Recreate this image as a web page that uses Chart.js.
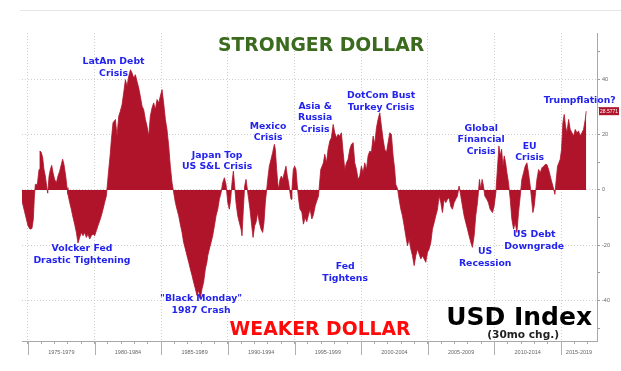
<!DOCTYPE html>
<html>
<head>
<meta charset="utf-8">
<script src="https://cdn.jsdelivr.net/npm/chart.js@4/dist/chart.umd.min.js"></script>
<style>
html,body{margin:0;padding:0;background:#fff;overflow:hidden}
canvas{display:block}
</style>
</head>
<body>
<canvas id="c" width="621" height="371"></canvas>
<script>
// ---- DATA ----
const years = [
1974.55,1974.70,1974.85,1975.00,1975.15,1975.30,1975.40,1975.48,1975.55,1975.70,1975.83,1975.90,
1976.00,1976.10,1976.20,1976.30,1976.40,1976.48,1976.58,1976.68,1976.78,1976.88,
1977.00,1977.13,1977.25,1977.38,1977.50,1977.60,1977.70,1977.83,1977.93,
1978.00,1978.13,1978.25,1978.38,1978.50,1978.63,1978.75,1978.88,
1979.00,1979.13,1979.25,1979.38,1979.50,1979.63,1979.75,1979.88,
1980.00,1980.13,1980.25,1980.38,1980.50,1980.63,1980.75,1980.88,
1981.06,1981.16,1981.26,1981.38,1981.56,1981.68,1981.81,1981.93,
1982.06,1982.18,1982.31,1982.43,1982.56,1982.69,1982.81,1982.93,
1983.06,1983.18,1983.31,1983.43,1983.56,1983.68,1983.81,1983.93,
1984.06,1984.18,1984.31,1984.43,1984.56,1984.68,1984.81,1984.93,
1985.06,1985.18,1985.31,1985.43,1985.56,1985.68,1985.81,
1986.06,1986.18,1986.31,1986.43,1986.56,1986.68,1986.81,1986.93,
1987.06,1987.18,1987.31,1987.43,1987.56,1987.68,1987.81,1987.93,
1988.06,1988.18,1988.31,1988.43,1988.49,1988.61,1988.74,1988.86,1988.99,
1989.11,1989.24,1989.36,1989.49,1989.61,1989.74,1989.86,1989.99,
1990.11,1990.21,1990.31,1990.41,1990.49,1990.61,1990.74,1990.86,1990.99,
1991.06,1991.16,1991.26,1991.36,1991.46,1991.56,1991.66,1991.79,1991.89,
1992.01,1992.11,1992.24,1992.36,1992.49,1992.61,1992.71,1992.81,1992.99,
1993.11,1993.24,1993.36,1993.49,1993.56,1993.66,1993.74,1993.81,1993.91,
1994.01,1994.11,1994.24,1994.36,1994.46,1994.56,1994.66,1994.74,1994.81,1994.91,
1995.01,1995.11,1995.21,1995.31,1995.41,1995.55,1995.67,1995.80,1995.92,
1996.05,1996.17,1996.30,1996.42,1996.55,1996.67,1996.80,1996.97,
1997.07,1997.17,1997.27,1997.40,1997.52,1997.65,1997.77,1997.90,
1998.02,1998.15,1998.27,1998.40,1998.52,1998.65,1998.77,1998.90,
1999.02,1999.15,1999.27,1999.40,1999.52,1999.65,1999.77,1999.90,
2000.02,2000.15,2000.27,2000.40,2000.52,2000.65,2000.77,2000.90,
2001.02,2001.15,2001.27,2001.40,2001.52,2001.65,2001.77,2001.90,
2002.02,2002.15,2002.27,2002.40,2002.52,2002.60,2002.73,2002.85,2002.98,
2003.10,2003.23,2003.35,2003.48,2003.60,2003.73,2003.85,2003.98,
2004.10,2004.23,2004.35,2004.48,2004.60,2004.73,2004.85,2004.98,
2005.10,2005.23,2005.35,2005.48,2005.60,2005.73,2005.85,2005.98,
2006.10,2006.23,2006.35,2006.48,2006.60,2006.73,2006.85,2006.98,
2007.10,2007.23,2007.35,2007.48,2007.60,2007.73,2007.85,2007.98,
2008.10,2008.23,2008.35,2008.48,2008.60,2008.73,2008.80,2008.88,2008.98,
2009.08,2009.18,2009.28,2009.43,2009.55,2009.68,2009.86,2009.98,
2010.11,2010.24,2010.34,2010.44,2010.54,2010.64,2010.74,2010.84,2010.94,
2011.06,2011.19,2011.31,2011.44,2011.56,2011.69,2011.81,2011.94,
2012.06,2012.19,2012.31,2012.44,2012.56,2012.69,2012.79,2012.89,2012.99,
2013.09,2013.19,2013.32,2013.44,2013.57,2013.69,2013.82,2013.94,
2014.07,2014.19,2014.32,2014.44,2014.54,2014.64,2014.74,2014.84,2014.94,
2015.04,2015.14,2015.24,2015.34,2015.44,2015.57,2015.69,2015.82,2015.94,
2016.07,2016.19,2016.32,2016.44,2016.57,2016.69,2016.82,2016.89
];
const values = [
-4.0,-7.0,-10.0,-13.0,-14.2,-13.9,-10.6,-2.2,2.0,2.0,7.4,14.1,
13.5,11.7,7.4,5.0,1.4,-1.2,5.0,7.4,8.9,6.2,
3.8,2.6,5.0,6.8,9.2,11.1,9.2,5.0,0.8,
-1.6,-4.6,-7.0,-10.0,-12.4,-15.4,-19.2,-17.2,
-15.4,-16.6,-15.4,-17.2,-16.0,-17.8,-16.6,-16.0,
-16.6,-14.8,-13.0,-11.2,-9.4,-7.0,-4.6,-2.2,
7.4,12.3,18.3,24.3,25.5,19.5,26.7,28.5,
30.9,35.1,39.9,37.5,41.1,43.5,42.3,40.5,
41.7,39.3,36.9,33.9,30.3,29.1,25.5,23.1,
19.5,26.7,29.7,31.5,29.1,32.7,31.5,33.9,
36.3,31.5,25.5,21.9,15.9,8.6,2.6,
-4.6,-7.0,-9.4,-12.4,-15.4,-19.0,-21.4,-23.8,
-26.2,-28.6,-31.0,-33.4,-35.8,-38.2,-36.4,-39.4,
-35.8,-33.4,-28.6,-26.0,-23.8,-21.4,-19.0,-16.6,-13.0,
-9.4,-7.0,-3.4,-1.0,2.6,4.4,2.0,-4.6,
-7.0,-3.4,2.6,6.8,2.6,-4.6,-9.4,-11.8,-14.2,
-16.6,-7.0,1.4,3.8,0.2,-3.4,-7.0,-13.0,-17.2,
-13.0,-11.8,-8.2,-11.8,-14.2,-15.4,-11.8,-4.6,3.8,
8.6,11.1,13.5,16.5,14.7,7.4,2.6,0.2,3.8,
5.0,3.8,6.2,8.6,5.0,2.6,-1.0,-3.4,0.2,7.4,
8.6,7.4,1.4,-3.4,-7.0,-8.0,-12.4,-10.0,-11.5,
-9.0,-7.0,-10.5,-9.0,-5.8,-4.0,-2.2,7.4,
8.6,9.8,12.9,9.8,14.7,17.7,18.9,23.7,
20.7,18.9,20.1,19.5,20.7,13.5,7.4,9.8,
11.1,14.7,16.5,17.1,9.8,7.4,3.8,5.0,
8.6,6.2,9.8,7.4,12.3,14.1,13.5,19.5,
16.5,22.5,25.5,27.9,23.1,18.3,14.7,13.5,
17.1,20.7,20.1,12.3,7.4,2.0,0.5,-3.4,-7.0,
-9.4,-13.0,-16.6,-20.2,-17.8,-21.4,-23.8,-27.4,
-23.8,-21.4,-23.2,-25.0,-23.8,-25.0,-26.2,-22.6,
-21.4,-19.0,-14.2,-11.8,-9.4,-7.0,-2.2,-4.6,
-8.2,-3.4,-4.6,-3.4,-2.8,-6.0,-7.0,-4.6,
-3.4,-2.2,1.4,-2.2,-5.8,-9.4,-11.8,-14.2,
-16.6,-19.0,-20.8,-16.6,-9.4,-4.6,-1.0,3.8,0.2,
3.8,1.4,-2.2,-3.4,-4.6,-7.0,-8.2,-5.8,
-1.0,8.6,15.9,12.3,14.7,8.6,12.3,9.8,6.2,
2.6,-3.4,-10.6,-14.2,-11.8,-15.4,-8.2,-2.2,
3.8,6.2,8.6,9.8,6.2,1.4,-3.4,-8.2,-5.8,
-1.0,3.8,7.4,6.2,8.0,8.6,9.2,9.2,
7.4,5.0,2.6,0.5,-1.6,3.8,8.6,9.8,11.1,
14.7,24.3,27.3,23.1,20.7,25.5,21.9,20.7,19.5,
21.9,20.7,21.3,19.5,20.7,21.9,25.5,28.5
];
const periodLabels = ['1975-1979','1980-1984','1985-1989','1990-1994','1995-1999','2000-2004','2005-2009','2010-2014','2015-2019'];
const periodStarts = [1975,1980,1985,1990,1995,2000,2005,2010,2015];
const yTickLabels = [40,20,0,-20,-40];
const lastValueText = '28.5771';

// annotation texts (anchored in data coordinates: year, value)
const notes = [
  {lines:['LatAm Debt','Crisis'], year:1981.42, val:46.4},
  {lines:['Volcker Fed','Drastic Tightening'], year:1979.05, val:-21.4},
  {lines:['"Black Monday"','1987 Crash'], year:1987.99, val:-39.4},
  {lines:['Japan Top','US S&L Crisis'], year:1989.19, val:12.5},
  {lines:['Mexico','Crisis'], year:1993.02, val:23.0},
  {lines:['Asia &','Russia','Crisis'], year:1996.55, val:30.2},
  {lines:['DotCom Bust','Turkey Crisis'], year:2001.50, val:34.1},
  {lines:['Global','Financial','Crisis'], year:2009.01, val:22.2},
  {lines:['EU','Crisis'], year:2012.65, val:15.7},
  {lines:['Trumpflation?'], year:2016.40, val:32.3},
  {lines:['US Debt','Downgrade'], year:2012.99, val:-16.3},
  {lines:['US','Recession'], year:2009.31, val:-22.5},
  {lines:['Fed','Tightens'], year:1998.80, val:-27.9}
];
const titles = [
  {text:'STRONGER DOLLAR', year:1996.99, val:52.1, font:'bold 18.8px "DejaVu Sans"', color:'#3b6b1f'},
  {text:'WEAKER DOLLAR', year:1996.92, val:-50.9, font:'bold 18.8px "DejaVu Sans"', color:'#ff0a0a'},
  {text:'USD Index', year:2011.86, val:-46.6, font:'bold 25px "DejaVu Sans"', color:'#000000'},
  {text:'(30mo chg.)', year:2012.16, val:-52.7, font:'bold 10.6px "DejaVu Sans"', color:'#222222'}
];

const BAR = '#b0142b';
const AXIS_MIN = 1974.55, AXIS_MAX = 2017.7;

const decor = {
  id:'decor',
  beforeDraw(chart){
    const ctx = chart.ctx;
    ctx.save();
    ctx.strokeStyle = '#e6e6e6';
    ctx.lineWidth = 1;
    ctx.beginPath(); ctx.moveTo(20, 10.5); ctx.lineTo(621, 10.5); ctx.stroke();
    ctx.restore();
  },
  afterDraw(chart){
    const ctx = chart.ctx, xs = chart.scales.x, ys = chart.scales.y;
    ctx.save();
    // long separator ticks under the x axis at 5-year boundaries
    ctx.strokeStyle = '#b0b0b0'; ctx.lineWidth = 1;
    periodStarts.forEach(p => {
      const px = Math.round(xs.getPixelForValue(p)) + 0.5;
      ctx.beginPath(); ctx.moveTo(px, xs.top); ctx.lineTo(px, xs.top + 14); ctx.stroke();
    });
    // annotations
    ctx.textAlign = 'center'; ctx.textBaseline = 'middle';
    ctx.fillStyle = '#2323ee';
    ctx.font = 'bold 9.3px "DejaVu Sans"';
    notes.forEach(n => {
      const cx = xs.getPixelForValue(n.year), cy = ys.getPixelForValue(n.val);
      n.lines.forEach((l, i) => ctx.fillText(l, cx, cy + i * 11.4));
    });
    titles.forEach(t => {
      ctx.font = t.font; ctx.fillStyle = t.color;
      ctx.fillText(t.text, xs.getPixelForValue(t.year), ys.getPixelForValue(t.val));
    });
    // last value badge on the right axis
    const ly = ys.getPixelForValue(values[values.length - 1]);
    const bx = ys.left + 2;
    ctx.fillStyle = BAR;
    ctx.fillRect(bx, ly - 4, 20, 8);
    ctx.fillStyle = '#ffffff';
    ctx.font = '5px "Liberation Sans"';
    ctx.fillText(lastValueText, bx + 10, ly + 0.5);
    ctx.restore();
  }
};

new Chart(document.getElementById('c'), {
  type:'line',
  data:{
    datasets:[{
      data: years.map((x, i) => ({x, y: values[i]})),
      borderColor: BAR,
      backgroundColor: BAR,
      borderWidth: 0.8,
      pointRadius: 0,
      tension: 0,
      fill: 'origin'
    }]
  },
  options:{
    responsive:false,
    animation:false,
    events:[],
    layout:{padding:{left:22, top:33, right:0, bottom:0}},
    plugins:{legend:{display:false}, tooltip:{enabled:false}},
    scales:{
      x:{
        type:'linear', min:AXIS_MIN, max:AXIS_MAX,
        afterBuildTicks: s => {
          const t = [];
          for (let y = 1975; y <= 2017; y++) t.push({value:y});
          periodStarts.forEach((p, i) => {
            const end = Math.min(p + 5, AXIS_MAX);
            t.push({value:(p + end) / 2, lbl: periodLabels[i]});
          });
          t.sort((a, b) => a.value - b.value);
          s.ticks = t;
        },
        afterFit: s => { s.height = 30; },
        ticks:{
          autoSkip:false, maxRotation:0, minRotation:0, padding:5,
          font:{size:5.5, family:'"Liberation Sans"'}, color:'#666',
          callback:(v, i, ticks) => (ticks[i] && ticks[i].lbl) ? ticks[i].lbl : ''
        },
        grid:{
          color: c => (c.tick && Number.isInteger(c.tick.value) && c.tick.value % 5 === 0) ? '#cfcfcf' : 'rgba(0,0,0,0)',
          tickColor: c => (c.tick && Number.isInteger(c.tick.value)) ? '#aaaaaa' : 'rgba(0,0,0,0)',
          tickLength:3, lineWidth:1
        },
        border:{display:true, color:'#a8a8a8', width:1, dash:[1,2]}
      },
      y:{
        position:'right', min:-54.7, max:56.8,
        afterFit: s => { s.width = 24; },
        ticks:{
          stepSize:10, includeBounds:false, autoSkip:false, padding:2,
          font:{size:5.5, family:'"Liberation Sans"'}, color:'#666',
          callback: v => yTickLabels.includes(v) ? String(v) : ''
        },
        grid:{
          color: c => (c.tick && yTickLabels.includes(c.tick.value)) ? '#cfcfcf' : 'rgba(0,0,0,0)',
          tickColor:'#999999', tickLength:3, lineWidth:1
        },
        border:{display:true, color:'#a8a8a8', width:1, dash:[1,2]}
      }
    }
  },
  plugins:[decor]
});
</script>
</body>
</html>
